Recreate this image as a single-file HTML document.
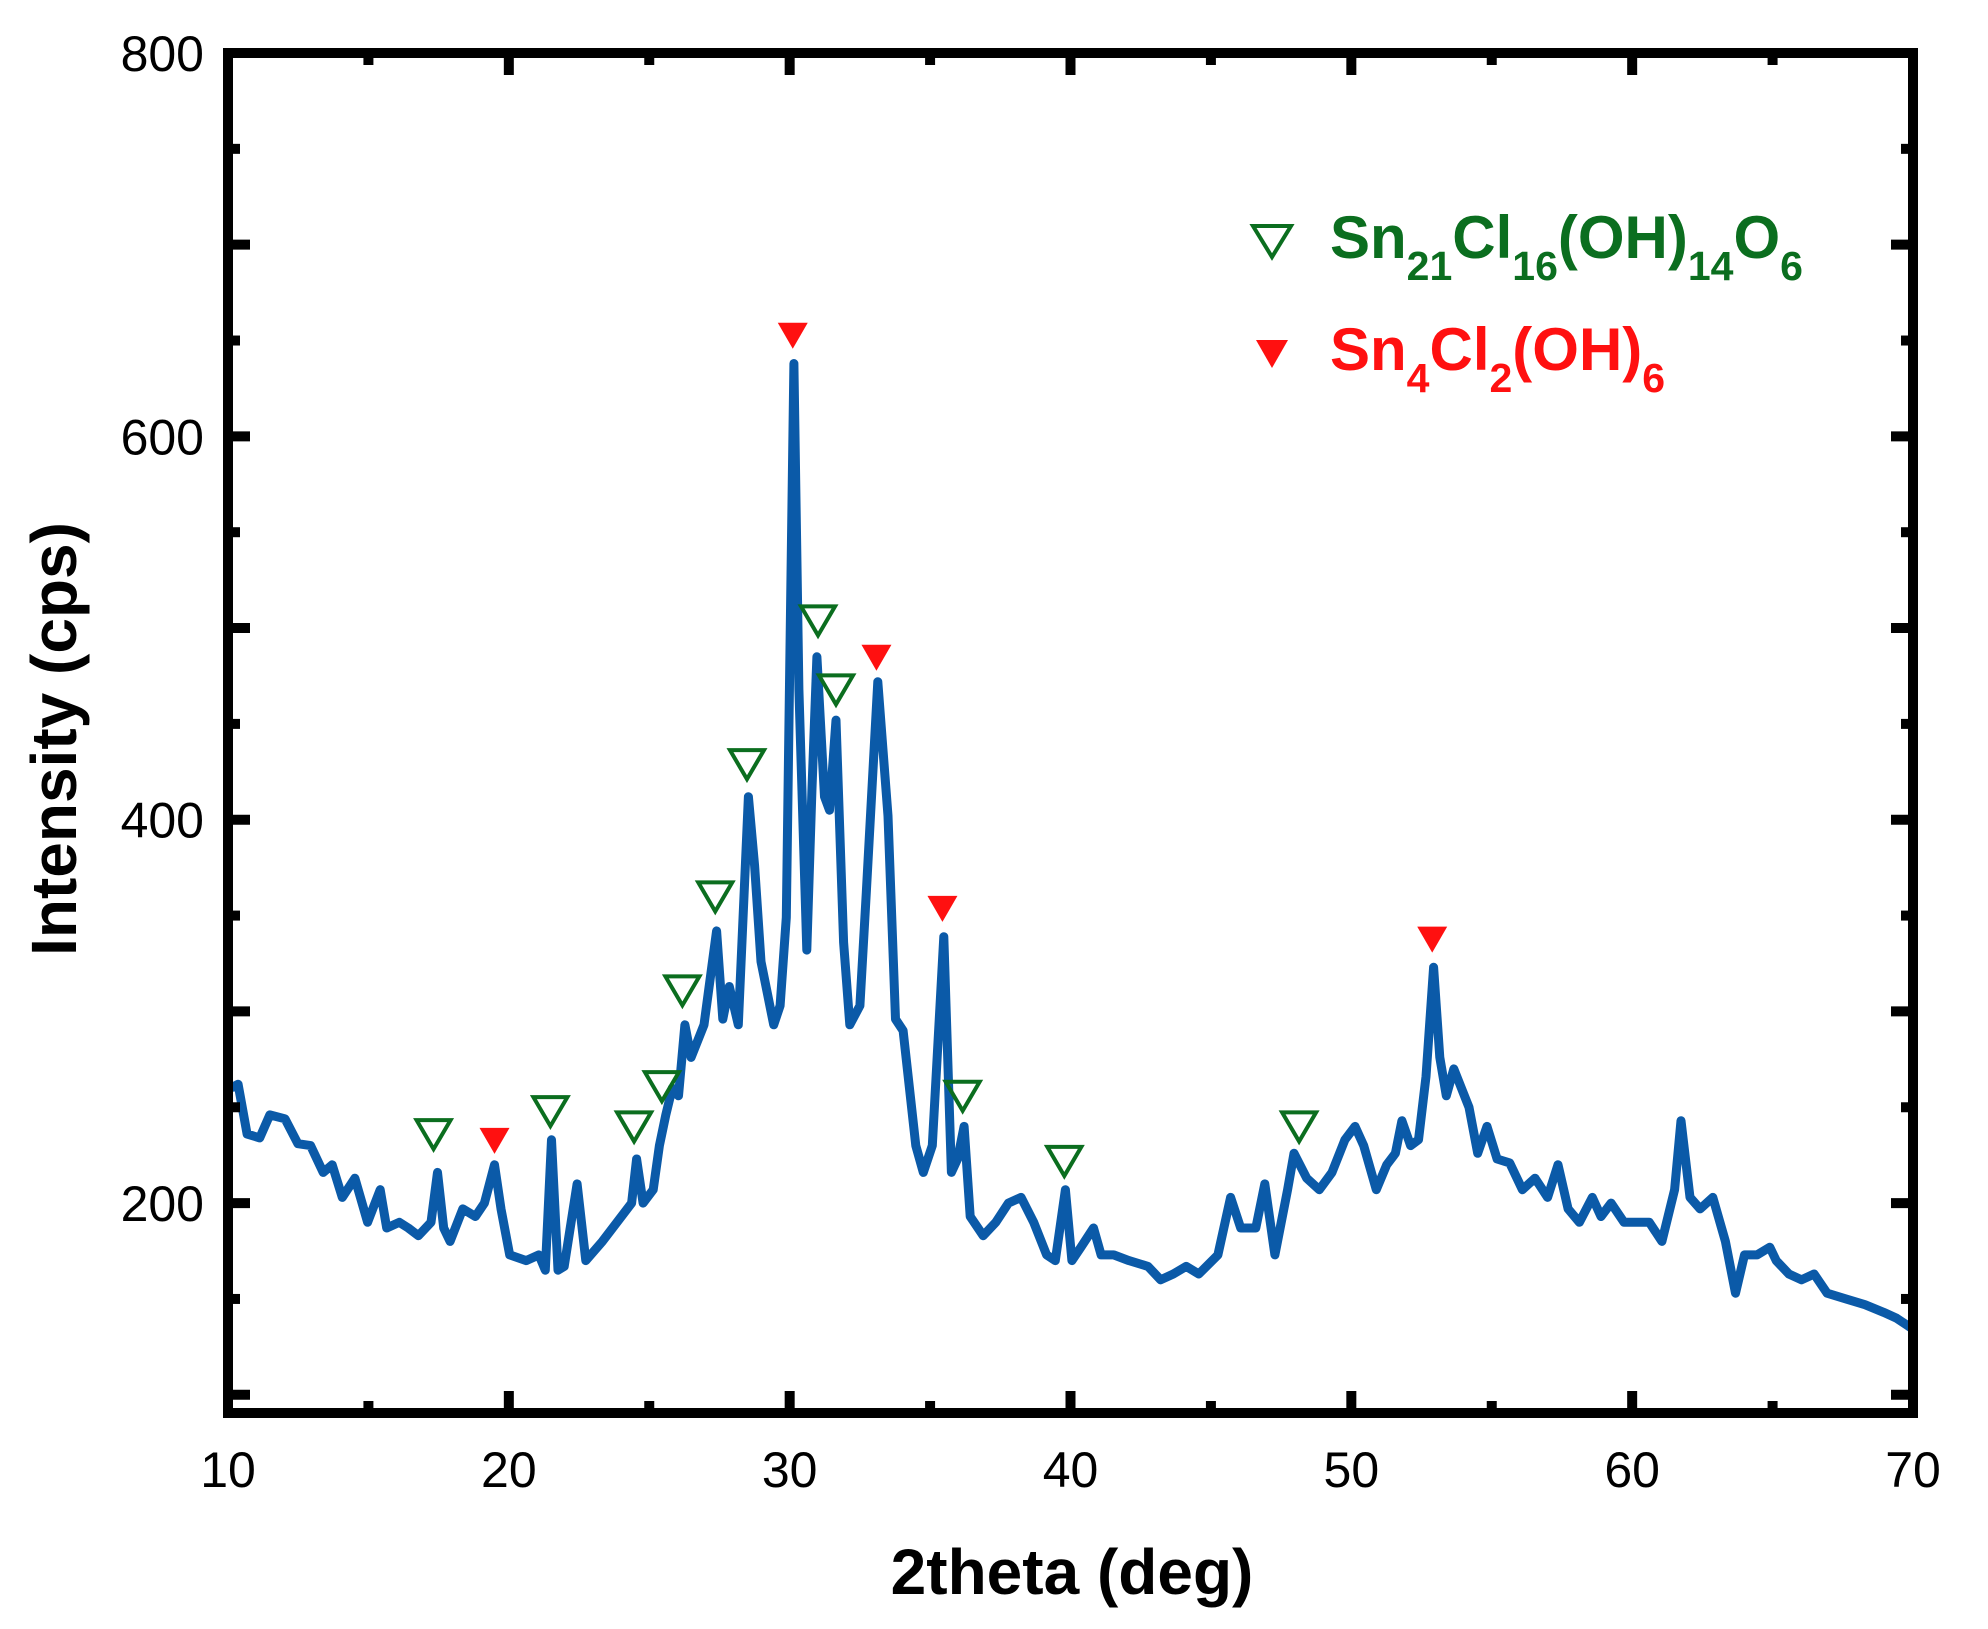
<!DOCTYPE html>
<html><head><meta charset="utf-8"><style>
html,body{margin:0;padding:0;background:#fff;}
svg{display:block;font-family:"Liberation Sans",Arial,sans-serif;}
</style></head><body>
<svg id="chart" width="1988" height="1629" viewBox="0 0 1988 1629" xmlns="http://www.w3.org/2000/svg">
<g id="plot"></g>
<g id="axes"></g>
<g id="legend">
  <polygon points="1253,226 1291,226 1272,257" fill="none" stroke="#0b6e1f" stroke-width="4"/>
  <text x="1330" y="258" font-size="60" font-weight="bold" fill="#0b6e1f">Sn<tspan font-size="41" dy="22">21</tspan><tspan dy="-22">Cl</tspan><tspan font-size="41" dy="22">16</tspan><tspan dy="-22">(OH)</tspan><tspan font-size="41" dy="22">14</tspan><tspan dy="-22">O</tspan><tspan font-size="41" dy="22">6</tspan></text>
  <polygon points="1256,340 1288,340 1272,368" fill="#ff1010"/>
  <text x="1330" y="370" font-size="60" font-weight="bold" fill="#ff1010">Sn<tspan font-size="41" dy="22">4</tspan><tspan dy="-22">Cl</tspan><tspan font-size="41" dy="22">2</tspan><tspan dy="-22">(OH)</tspan><tspan font-size="41" dy="22">6</tspan></text>
</g>
<text x="1072" y="1594" font-size="64" font-weight="bold" text-anchor="middle">2theta (deg)</text>
<text transform="translate(76,739) rotate(-90)" font-size="64" font-weight="bold" text-anchor="middle">Intensity (cps)</text>
</svg>
<script>
const xTickLabels = [10, 20, 30, 40, 50, 60, 70];
const yTickLabels = [200, 400, 600, 800];
const twoTheta = [10.09,10.36,10.68,11.13,11.49,12.03,12.49,12.94,13.07,13.39,13.71,14.07,14.52,14.97,15.42,15.65,16.10,16.42,16.78,17.23,17.46,17.68,17.91,18.36,18.81,19.13,19.49,19.72,20.03,20.62,21.07,21.30,21.52,21.75,21.97,22.43,22.74,23.33,24.01,24.37,24.55,24.78,25.14,25.36,25.59,25.82,26.04,26.27,26.49,26.95,27.40,27.62,27.85,28.17,28.53,28.75,28.98,29.43,29.66,29.88,30.15,30.33,30.61,30.79,30.97,31.24,31.42,31.65,31.92,32.14,32.50,32.73,33.14,33.50,33.77,34.04,34.49,34.76,35.08,35.49,35.76,35.98,36.21,36.43,36.89,37.34,37.79,38.24,38.69,39.15,39.46,39.82,40.05,40.37,40.82,41.09,41.54,42.08,42.76,43.21,43.66,44.12,44.57,45.25,45.70,46.06,46.60,46.92,47.28,47.73,47.96,48.41,48.86,49.31,49.77,50.13,50.44,50.89,51.26,51.57,51.80,52.11,52.39,52.66,52.93,53.15,53.38,53.65,53.92,54.19,54.50,54.83,55.19,55.64,56.09,56.54,56.99,57.36,57.72,58.12,58.58,58.89,59.25,59.71,60.16,60.61,61.06,61.51,61.74,62.06,62.42,62.87,63.32,63.68,64.00,64.45,64.90,65.13,65.58,66.03,66.48,66.94,67.61,68.29,68.96,69.41,69.92];
const intensity = [260,262,236,234,246,244,231,230,226,216,220,203,213,190,207,187,190,187,183,190,216,187,180,197,193,200,220,197,173,170,173,165,233,165,167,210,170,180,193,200,223,200,207,230,246,260,256,293,276,293,342,296,313,293,412,376,326,293,303,349,638,468,332,415,485,412,405,452,336,293,303,362,472,402,296,290,230,216,230,339,216,223,240,193,183,190,200,203,190,173,170,207,170,177,187,173,173,170,167,160,163,167,163,173,203,187,187,210,173,207,226,213,207,216,233,240,230,207,220,226,243,230,233,266,323,276,256,270,260,250,226,240,223,221,207,213,203,220,197,190,203,193,200,190,190,190,180,207,243,203,197,203,180,153,173,173,177,170,163,160,163,153,150,147,143,140,135];
const greenX = [17.32,21.48,24.46,25.45,26.18,27.35,28.48,31.01,31.65,36.16,39.78,48.14];
const greenY = [236,248,240,261,311,360,429,504,468,256,222,240];
const redX = [19.49,30.11,33.09,35.44,52.88];
const redY = [233,653,485,354,338];

const X0=228, X1=1913, Y0=1413, Y1=53, XMIN=10, XMAX=70, YMIN=90.5, YMAX=800;
function sx(v){return X0+(v-XMIN)/(XMAX-XMIN)*(X1-X0);}
function sy(v){return Y0-(v-YMIN)/(YMAX-YMIN)*(Y0-Y1);}
const NS="http://www.w3.org/2000/svg";
const plot=document.getElementById('plot'), axes=document.getElementById('axes');
function mk(tag,attrs,parent){const e=document.createElementNS(NS,tag);for(const k in attrs)e.setAttribute(k,attrs[k]);parent.appendChild(e);return e;}

let d='';
twoTheta.forEach((t,i)=>{d+=(i?'L':'M')+sx(t).toFixed(1)+','+sy(intensity[i]).toFixed(1);});
const line=mk('path',{d:d,fill:'none',stroke:'#0b5aa8','stroke-width':9,'stroke-linejoin':'round','stroke-linecap':'round'},plot);



greenX.forEach((t,i)=>{
  const cx=sx(t), cy=sy(greenY[i]);
  const p=mk('polygon',{points:`${cx-17},${cy-14} ${cx+17},${cy-14} ${cx},${cy+15}`,fill:'none',stroke:'#0b6e1f','stroke-width':4},plot);
  
  
});
redX.forEach((t,i)=>{
  const cx=sx(t), cy=sy(redY[i]);
  const p=mk('polygon',{points:`${cx-15},${cy-12} ${cx+15},${cy-12} ${cx},${cy+14}`,fill:'#ff1010'},plot);
  
  
});

const frame=mk('rect',{x:X0,y:Y1,width:X1-X0,height:Y0-Y1,fill:'none',stroke:'#000','stroke-width':10},axes);


for(let v=10;v<=70;v+=5){
  const x=sx(v), len=(v%10===0)?22:12;
  if(v>10&&v<70){
    mk('line',{x1:x,y1:Y0,x2:x,y2:Y0-len,stroke:'#000','stroke-width':10},axes);
    mk('line',{x1:x,y1:Y1,x2:x,y2:Y1+len,stroke:'#000','stroke-width':10},axes);
  }
}
xTickLabels.forEach(v=>{
  const t=mk('text',{x:sx(v),y:1487,'font-size':50,'text-anchor':'middle',fill:'#000'},axes);
  t.textContent=v;
  
  
});
for(let v=100;v<800;v+=50){
  const y=sy(v), len=(v%100===0)?22:12;
  mk('line',{x1:X0,y1:y,x2:X0+len,y2:y,stroke:'#000','stroke-width':10},axes);
  mk('line',{x1:X1,y1:y,x2:X1-len,y2:y,stroke:'#000','stroke-width':10},axes);
}
yTickLabels.forEach(v=>{
  const t=mk('text',{x:204,y:sy(v)+18,'font-size':50,'text-anchor':'end',fill:'#000'},axes);
  t.textContent=v;
  
  
});
</script>
</body></html>
